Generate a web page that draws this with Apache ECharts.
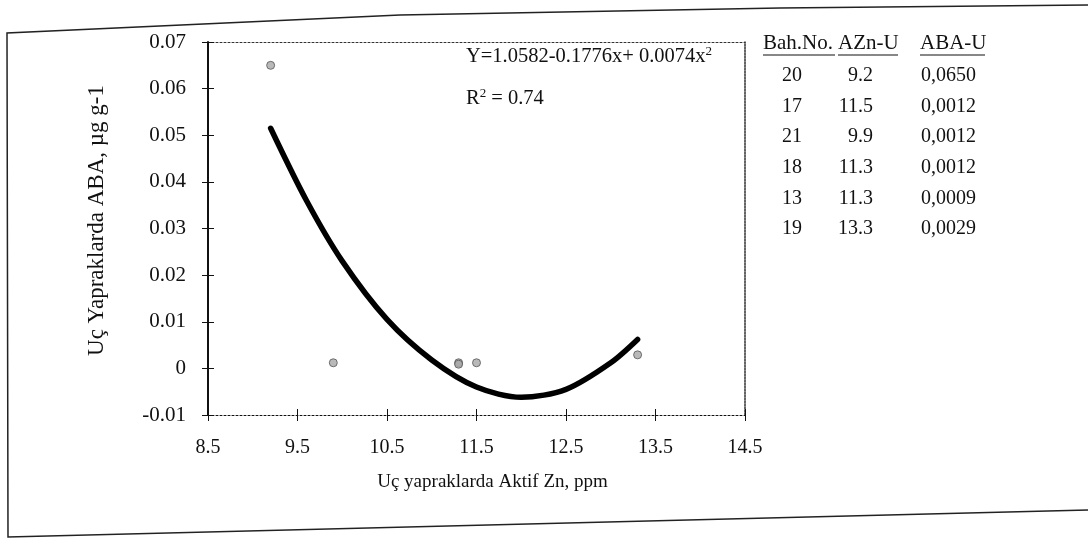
<!DOCTYPE html>
<html>
<head>
<meta charset="utf-8">
<script src="https://cdn.jsdelivr.net/npm/echarts@6/dist/echarts.min.js"></script>
<style>
html,body{margin:0;padding:0;background:#fff;}
#chart{width:1088px;height:539px;}
</style>
</head>
<body>
<div id="chart"></div>
<script>
// ---- data ----
const bahNo = ['20', '17', '21', '18', '13', '19'];
const aznU  = [9.2, 11.5, 9.9, 11.3, 11.3, 13.3];
const abaU  = [0.0650, 0.0012, 0.0012, 0.0012, 0.0009, 0.0029];
// fitted curve as drawn in the picture
const curveX = [9.2, 9.6, 10.0, 10.5, 11.0, 11.5, 12.0, 12.5, 13.0, 13.3];
const curveY = [0.0515, 0.0360, 0.0230, 0.0105, 0.0018, -0.0040, -0.0062, -0.0045, 0.0012, 0.0062];
const xTicks = { min: 8.5, max: 14.5, interval: 1 };
const yTicks = { min: -0.01, max: 0.07, interval: 0.01 };
const tableHeader = ['Bah.No.', 'AZn-U', 'ABA-U'];
const equationText = 'Y=1.0582-0.1776x+ 0.0074x';
const r2Text = '0.74';
const xTitle = 'Uç yapraklarda Aktif Zn, ppm';
const yTitle = 'Uç Yapraklarda ABA, µg g-1';

const FONT = '"Liberation Serif", "DejaVu Serif", serif';
const chart = echarts.init(document.getElementById('chart'), null, { renderer: 'canvas' });

const scatterData = aznU.map((x, i) => [x, abaU[i]]);
const curveData = curveX.map((x, i) => [x, curveY[i]]);

// table graphic
const graphics = [];
const headerY = 45;
const rowY0 = 76, rowStep = 30.6;
const colBah = { x: 763, w: 72 }, colAzn = { x: 838, w: 60 }, colAba = { x: 920, w: 65 };
[[tableHeader[0], colBah], [tableHeader[1], colAzn], [tableHeader[2], colAba]].forEach(([t, c]) => {
  graphics.push({ type: 'text', left: c.x, top: headerY - 12,
    style: { text: t, font: '21px ' + FONT, fill: '#111' } });
  graphics.push({ type: 'line', shape: { x1: c.x, y1: headerY + 10, x2: c.x + c.w, y2: headerY + 10 },
    style: { stroke: '#111', lineWidth: 1.2 } });
});
bahNo.forEach((b, i) => {
  const y = rowY0 + i * rowStep;
  graphics.push({ type: 'text', x: 792, y: y,
    style: { text: b, font: '20px ' + FONT, fill: '#111', align: 'center', verticalAlign: 'middle' } });
  graphics.push({ type: 'text', x: 873, y: y,
    style: { text: aznU[i].toFixed(1), font: '20px ' + FONT, fill: '#111', align: 'right', verticalAlign: 'middle' } });
  graphics.push({ type: 'text', x: 921, y: y,
    style: { text: abaU[i].toFixed(4).replace('.', ','), font: '20px ' + FONT, fill: '#111', align: 'left', verticalAlign: 'middle' } });
});
// equation & R2
const supStyle = { sup: { font: '13px ' + FONT, verticalAlign: 'top', padding: [0, 0, 10, 0], fill: '#111' } };
graphics.push({ type: 'text', left: 466, top: 45,
  style: { text: equationText + '{sup|2}', font: '20.5px ' + FONT, fill: '#111', rich: supStyle } });
graphics.push({ type: 'text', left: 466, top: 87,
  style: { text: 'R{sup|2} = ' + r2Text, font: '20.5px ' + FONT, fill: '#111', rich: supStyle } });
// scanned page frame
graphics.push({ type: 'polyline', shape: { points: [[1088, 5], [780, 8], [400, 15], [7, 33], [8, 537], [1088, 510]] },
  style: { stroke: '#222', lineWidth: 1.5, fill: null } });

const baseX = { type: 'value', min: xTicks.min, max: xTicks.max, interval: xTicks.interval, splitLine: { show: false } };
const baseY = { type: 'value', min: yTicks.min, max: yTicks.max, interval: yTicks.interval, splitLine: { show: false } };

const option = {
  backgroundColor: '#fff',
  animation: false,
  grid: { left: 208, right: 343, top: 42, bottom: 124, containLabel: false },
  xAxis: [
    Object.assign({}, baseX, {
      position: 'bottom',
      axisLine: { show: true, onZero: false, lineStyle: { color: '#111', width: 1, type: [2, 2] } },
      axisTick: { show: true, inside: false, length: 6, lineStyle: { color: '#111', width: 1 } },
      axisLabel: { show: true, margin: 23, color: '#111', fontFamily: FONT, fontSize: 20,
        formatter: v => v.toFixed(1) },
      name: xTitle, nameLocation: 'middle', nameGap: 58,
      nameTextStyle: { color: '#111', fontFamily: FONT, fontSize: 19, padding: [0, 0, 0, 32] }
    }),
    Object.assign({}, baseX, {
      position: 'bottom',
      axisLine: { show: false, onZero: false },
      axisTick: { show: true, inside: true, length: 6, lineStyle: { color: '#111', width: 1 } },
      axisLabel: { show: false }
    }),
    Object.assign({}, baseX, {
      position: 'top',
      axisLine: { show: true, onZero: false, lineStyle: { color: '#333', width: 1, type: [2, 2] } },
      axisTick: { show: false }, axisLabel: { show: false }
    })
  ],
  yAxis: [
    Object.assign({}, baseY, {
      position: 'left',
      axisLine: { show: true, onZero: false, lineStyle: { color: '#111', width: 2 } },
      axisTick: { show: true, inside: false, length: 6, lineStyle: { color: '#111', width: 1 } },
      axisLabel: { show: true, margin: 22, color: '#111', fontFamily: FONT, fontSize: 21,
        formatter: v => Math.abs(v) < 1e-9 ? '0' : v.toFixed(2) },
      name: yTitle, nameLocation: 'middle', nameGap: 100, nameRotate: 90,
      nameTextStyle: { color: '#111', fontFamily: FONT, fontSize: 23, padding: [0, 0, 0, 16] }
    }),
    Object.assign({}, baseY, {
      position: 'left',
      axisLine: { show: false, onZero: false },
      axisTick: { show: true, inside: true, length: 6, lineStyle: { color: '#111', width: 1 } },
      axisLabel: { show: false }
    }),
    Object.assign({}, baseY, {
      position: 'right',
      axisLine: { show: true, onZero: false, lineStyle: { color: '#333', width: 1.5, type: [2, 1] } },
      axisTick: { show: false }, axisLabel: { show: false }
    })
  ],
  series: [
    {
      type: 'line', xAxisIndex: 0, yAxisIndex: 0,
      data: curveData, smooth: 0.3, showSymbol: false, symbol: 'none',
      lineStyle: { color: '#000', width: 5.5, cap: 'round' }, z: 3
    },
    {
      type: 'scatter', xAxisIndex: 0, yAxisIndex: 0,
      data: scatterData, symbol: 'circle', symbolSize: 8,
      itemStyle: { color: '#a8a8a8', borderColor: '#555', borderWidth: 1 }, z: 4
    }
  ],
  graphic: graphics
};
chart.setOption(option);
</script>
</body>
</html>
